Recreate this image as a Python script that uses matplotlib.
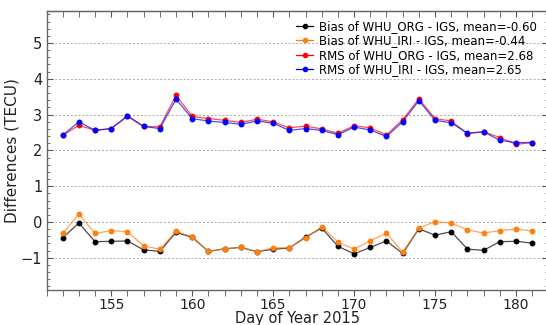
import matplotlib
matplotlib.use("Agg")
import matplotlib.pyplot as plt
from matplotlib.ticker import MultipleLocator

days = list(range(152, 182))

bias_org = [-0.44, -0.03, -0.55, -0.54, -0.53, -0.78, -0.82, -0.29, -0.43, -0.82,
            -0.75, -0.71, -0.83, -0.76, -0.73, -0.42, -0.17, -0.68, -0.89, -0.71,
            -0.53, -0.88, -0.19, -0.37, -0.27, -0.76, -0.79, -0.55, -0.54, -0.59]
bias_iri = [-0.32, 0.22, -0.32, -0.24, -0.27, -0.67, -0.76, -0.26, -0.41, -0.82,
            -0.75, -0.71, -0.83, -0.72, -0.72, -0.45, -0.13, -0.56, -0.76, -0.52,
            -0.32, -0.84, -0.17, 0.01, -0.03, -0.22, -0.31, -0.24, -0.20, -0.25]
rms_org = [2.42, 2.70, 2.56, 2.61, 2.96, 2.67, 2.66, 3.54, 2.95, 2.89,
           2.84, 2.78, 2.87, 2.80, 2.63, 2.68, 2.60, 2.48, 2.69, 2.63,
           2.43, 2.86, 3.44, 2.89, 2.82, 2.47, 2.52, 2.36, 2.17, 2.22]
rms_iri = [2.42, 2.80, 2.56, 2.61, 2.96, 2.67, 2.61, 3.43, 2.89, 2.82,
           2.78, 2.73, 2.82, 2.76, 2.56, 2.61, 2.56, 2.44, 2.65, 2.57,
           2.39, 2.80, 3.39, 2.84, 2.77, 2.48, 2.52, 2.28, 2.22, 2.22]

labels = ["Bias of WHU_ORG - IGS, mean=-0.60",
          "Bias of WHU_IRI - IGS, mean=-0.44",
          "RMS of WHU_ORG - IGS, mean=2.68",
          "RMS of WHU_IRI - IGS, mean=2.65"]
colors = ["#000000", "#ff7f0e", "#ff0000", "#0000ff"]
series = [bias_org, bias_iri, rms_org, rms_iri]

fig = plt.figure(figsize=(5.46, 3.25), dpi=100)
ax = fig.add_axes([46.5 / 546, 35.0 / 325, 501.9 / 546, 279.2 / 325])

for vals, col, lab in zip(series, colors, labels):
    ax.plot(days, vals, color=col, lw=0.9, alpha=0.7)
    ax.plot(days, vals, ls="none", marker="o", ms=3.2, color=col)

handles = [plt.Line2D([], [], color=c, lw=0.9, marker="o", ms=3.0) for c in colors]
ax.legend(handles, labels, loc="upper right", frameon=False, fontsize=8.5,
          handlelength=1.5, handletextpad=0.45, labelspacing=0.12,
          borderaxespad=0.3, bbox_to_anchor=(0.993, 0.997))

ax.set_xlim(151, 182)
ax.set_ylim(-1.9, 5.9)
ax.xaxis.set_major_locator(MultipleLocator(5))
ax.xaxis.set_minor_locator(MultipleLocator(1))
ax.yaxis.set_major_locator(MultipleLocator(1))
ax.yaxis.set_minor_locator(MultipleLocator(0.2))

ax.grid(axis="y", which="major", ls=(0, (2, 2)), color="#aaaaaa", lw=0.7)
ax.set_axisbelow(True)

for s in ax.spines.values():
    s.set_color("#666666")
    s.set_linewidth(1.0)

ax.tick_params(axis="y", which="both", direction="in", left=True, right=True,
               color="#555555", labelsize=10.5, labelcolor="#222222", pad=3)
ax.tick_params(axis="y", which="major", length=4)
ax.tick_params(axis="y", which="minor", length=2.5)
ax.tick_params(axis="x", which="both", direction="out", bottom=True, top=False,
               color="#555555", labelsize=10, labelcolor="#222222",
               length=4, pad=1.5)

# inward ticks along the top edge
top = ax.secondary_xaxis("top")
top.xaxis.set_major_locator(MultipleLocator(5))
top.xaxis.set_minor_locator(MultipleLocator(1))
top.tick_params(axis="x", which="both", direction="in", length=4,
                color="#555555", labeltop=False)
top.spines["top"].set_color("#666666")

ax.set_xlabel("Day of Year 2015", fontsize=10.5, color="#222222", labelpad=-0.5)
ax.set_ylabel("Differences (TECU)", fontsize=11, color="#222222", labelpad=1)

fig.savefig("out.png", dpi=100)
